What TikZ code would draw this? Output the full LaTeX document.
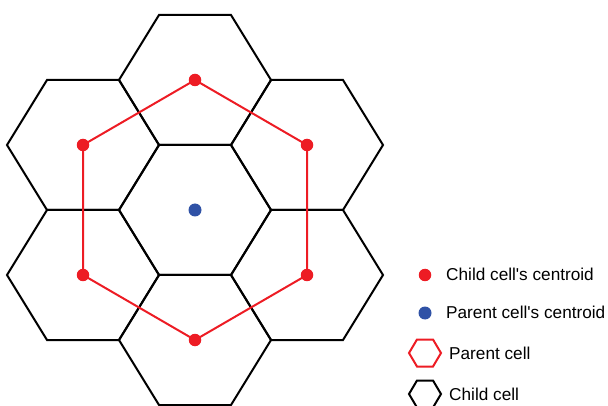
\documentclass[tikz,border=0pt]{standalone}
\usepackage{fontspec}
\setmainfont{Liberation Sans}
\definecolor{cred}{RGB}{237,28,36}
\definecolor{cblue}{RGB}{48,82,166}
\begin{document}
\begin{tikzpicture}[x=1pt,y=-1pt,
  hexline/.style={line width=2pt,line join=miter},
  dotred/.style={circle,fill=cred,inner sep=0pt,minimum size=12.5pt},
  dotblue/.style={circle,fill=cblue,inner sep=0pt,minimum size=13pt},
  lbl/.style={anchor=west,inner sep=0pt,font=\fontsize{17.2}{19}\selectfont}]
\useasboundingbox (0,0) rectangle (608,406);
% child hexagons
\foreach \cx/\cy in {195/210,195/80,307/145,307/275,195/340,83/275,83/145}{
  \draw[hexline] (\cx-76,\cy) -- (\cx-36,\cy-65) -- (\cx+36,\cy-65) -- (\cx+76,\cy)
    -- (\cx+36,\cy+65) -- (\cx-36,\cy+65) -- cycle;
}
% centroids
\node[dotred] (c1) at (195,80) {};
\node[dotred] (c2) at (307,145) {};
\node[dotred] (c3) at (307,275) {};
\node[dotred] (c4) at (195,340) {};
\node[dotred] (c5) at (83,275) {};
\node[dotred] (c6) at (83,145) {};
\node[dotblue] (p) at (195,210) {};
\draw[cred,line width=2pt,line join=miter] (c1.center) -- (c2.center) -- (c3.center) -- (c4.center) -- (c5.center) -- (c6.center) -- cycle;
% legend
\node[dotred] (l1) at (425,275) {};
\node[lbl] (t1) at (446,274) {Child cell\textquotesingle s centroid};
\node[dotblue] (l2) at (425,313) {};
\node[lbl] (t2) at (446,312) {Parent cell\textquotesingle s centroid};
\draw[cred,line width=2pt] (409,353) -- (417,339.5) -- (433,339.5) -- (441,353) -- (433,366.5) -- (417,366.5) -- cycle;
\node[lbl] (t3) at (449,353) {Parent cell};
\draw[line width=2pt] (409,394) -- (417,380.5) -- (433,380.5) -- (441,394) -- (433,407.5) -- (417,407.5) -- cycle;
\node[lbl] (t4) at (449,394) {Child cell};
\end{tikzpicture}
\end{document}
